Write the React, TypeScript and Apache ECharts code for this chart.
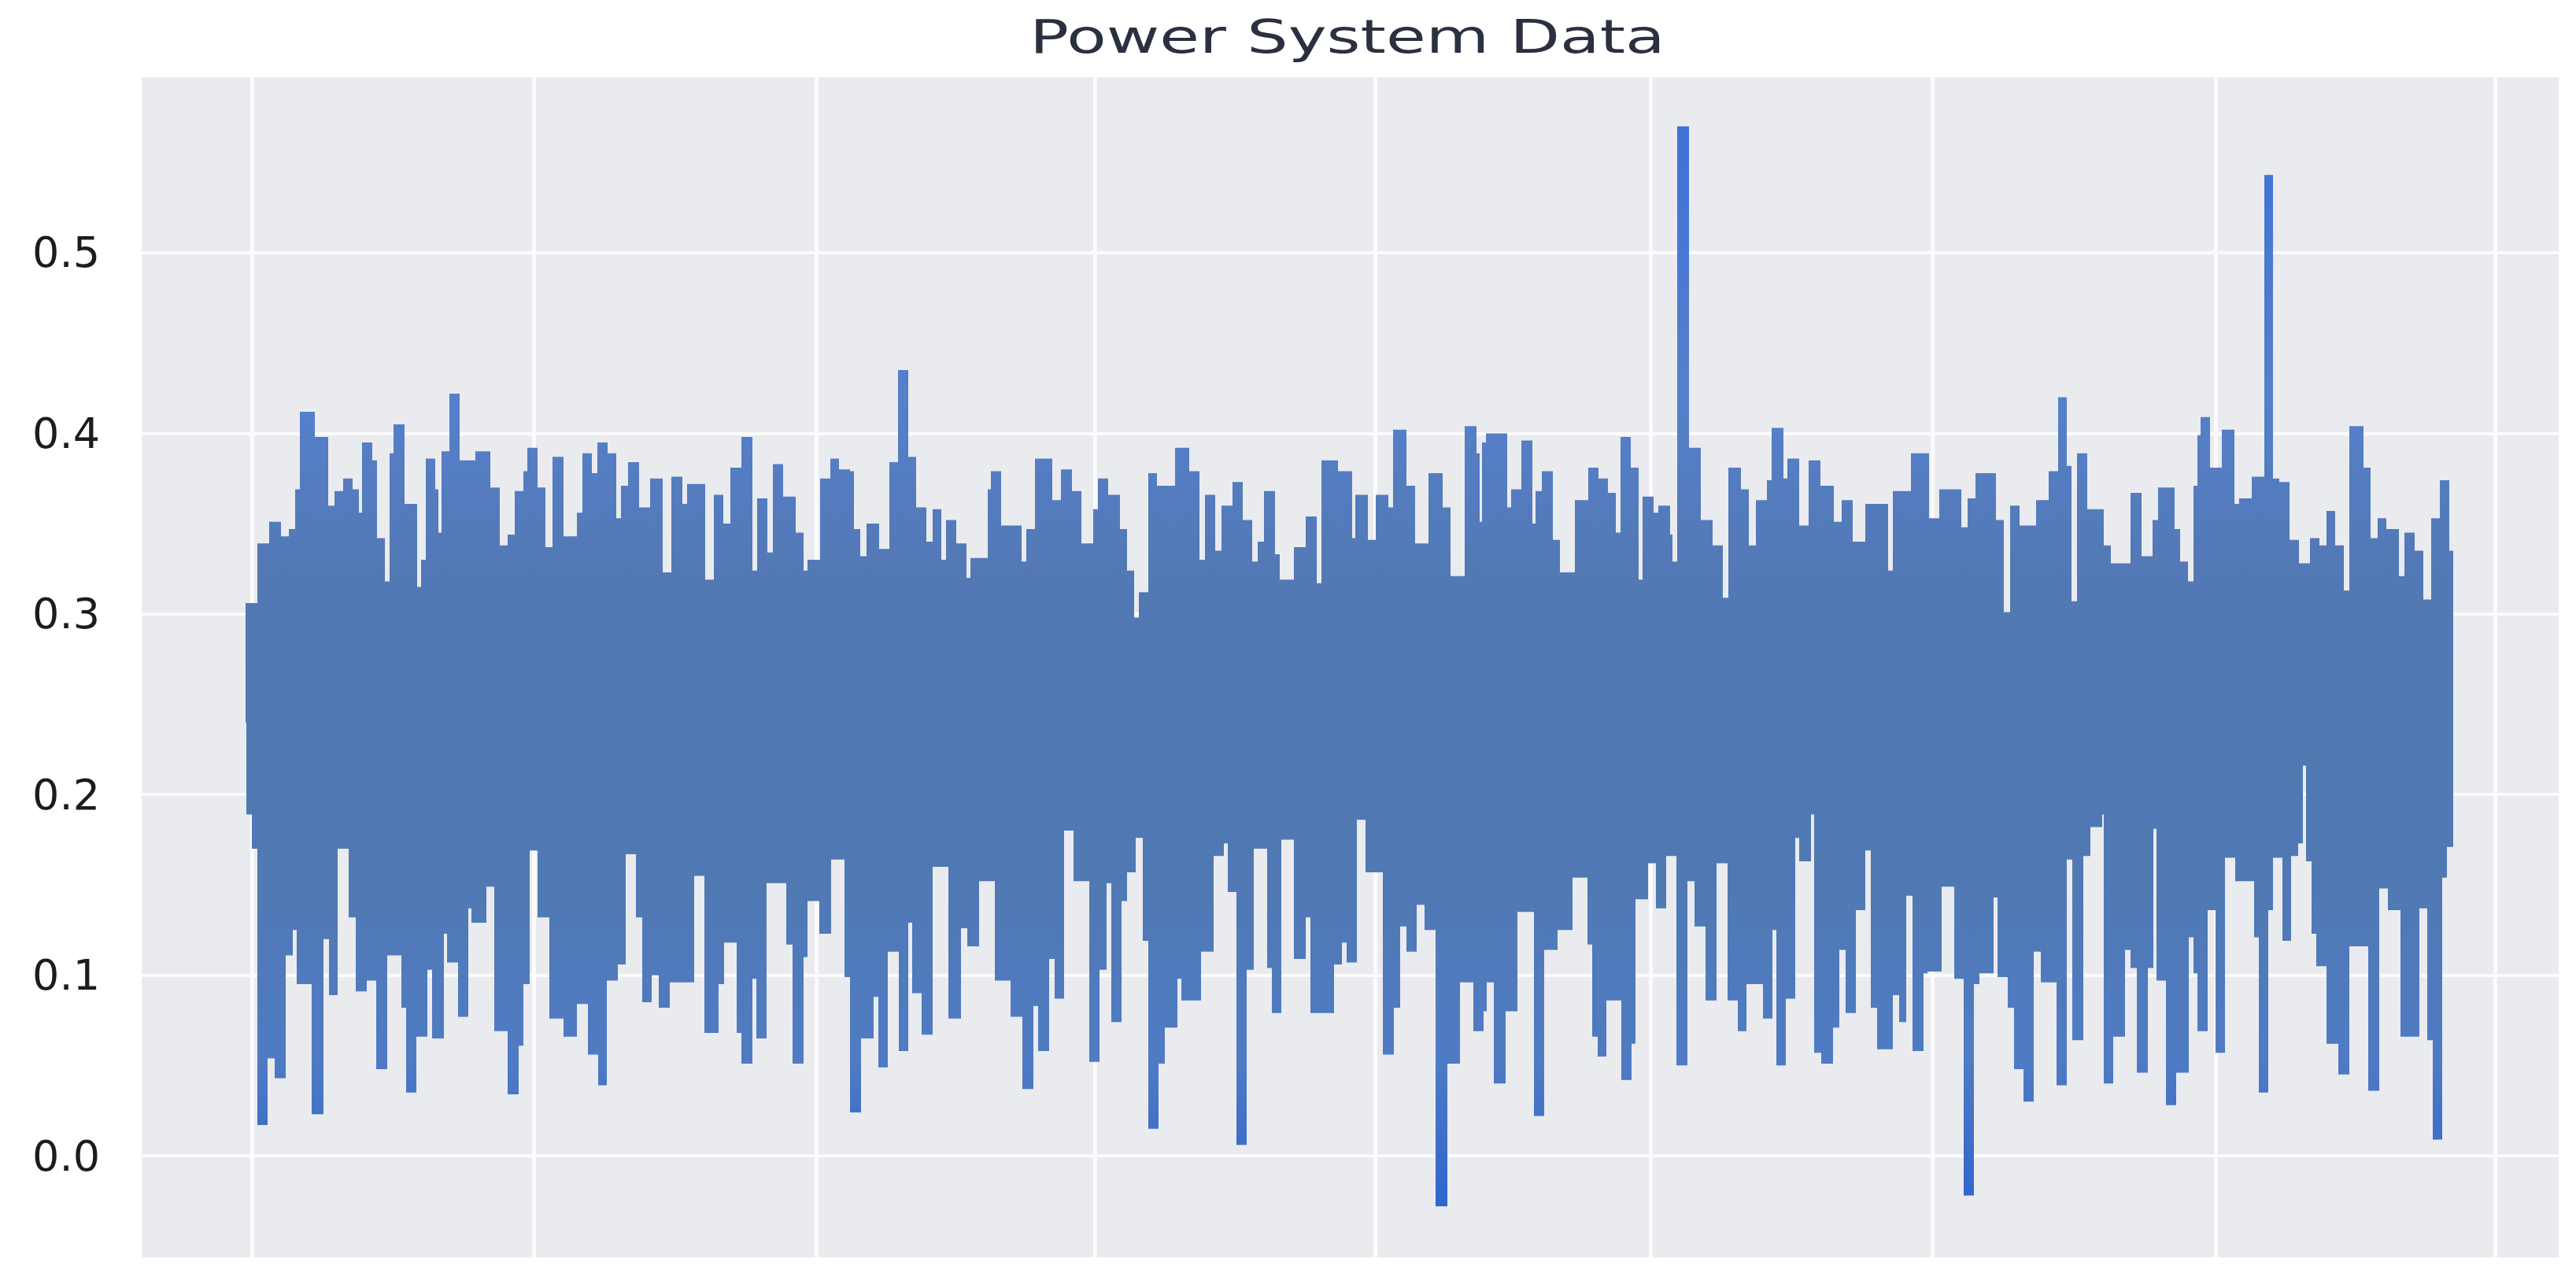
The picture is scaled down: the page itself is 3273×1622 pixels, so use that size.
import React, { useEffect, useRef } from "react";
import * as echarts from "echarts";

const chartTitle = "Power System Data";
const valueTicks = [0, 0.1, 0.2, 0.3, 0.4, 0.5];
const timeTicks = [0, 358, 717, 1071, 1427, 1777, 2135, 2495, 2850];

const upperTimes = [
  -8, 7, 22, 37, 47, 55, 61, 80, 97, 105, 116, 128, 136, 140, 153, 159, 169, 175, 180, 194, 210, 215, 221, 233, 237, 241, 251, 264, 284, 303, 315, 325, 334, 345, 350, 363, 373, 382, 396, 413, 420, 432, 439, 452, 463, 469, 478, 492, 506, 522, 533, 547, 553, 576, 587, 599, 608, 622, 636, 642, 655, 662, 675, 691, 701, 706, 722, 735, 746,
  760, 765, 773, 781, 797, 810, 821, 834, 844, 857, 865, 876, 882, 895, 908, 913, 935, 939, 952, 978, 984, 995, 1017, 1028, 1042, 1054, 1069, 1075, 1088, 1103, 1112, 1121, 1127, 1139, 1150, 1173, 1191, 1204, 1211, 1224, 1232, 1246, 1259, 1271, 1278, 1286, 1300, 1306, 1324, 1339, 1353, 1359, 1380, 1398, 1402, 1418, 1428, 1444, 1450, 1467, 1478, 1495, 1513, 1523, 1541, 1556,
  1560, 1563, 1568, 1595, 1600, 1613, 1627, 1631, 1639, 1653, 1662, 1681, 1698, 1711, 1723, 1733, 1739, 1752, 1762, 1767, 1781, 1787, 1802, 1805, 1811, 1826, 1841, 1856, 1869, 1876, 1892, 1902, 1911, 1925, 1931, 1946, 1951, 1966, 1978, 1993, 2010, 2020, 2034, 2050, 2079, 2085, 2108, 2131, 2144, 2172, 2180, 2190, 2216, 2226, 2234, 2246, 2267, 2283,
  2295, 2306, 2312, 2319, 2332, 2353, 2362, 2387, 2401, 2415, 2422, 2443, 2450, 2460, 2467, 2472, 2476, 2488, 2503, 2519, 2525, 2541, 2557, 2568, 2576, 2589, 2601, 2615, 2627, 2636, 2647, 2658, 2665, 2683, 2692, 2701, 2712, 2728, 2735, 2748, 2759, 2769, 2780, 2792, 2797,
];
const upperValues = [
  0.306, 0.339, 0.351, 0.343, 0.347, 0.369, 0.412, 0.398, 0.36, 0.368, 0.375, 0.369, 0.356, 0.395, 0.385, 0.342, 0.318, 0.389, 0.405, 0.361, 0.315, 0.33, 0.386, 0.369, 0.345, 0.39, 0.422, 0.385, 0.39, 0.37, 0.338, 0.344, 0.368, 0.379, 0.392, 0.37, 0.337, 0.387, 0.343, 0.356, 0.389, 0.378, 0.395, 0.389, 0.353, 0.371, 0.384, 0.359, 0.375, 0.323, 0.376, 0.361, 0.372, 0.319, 0.366, 0.35, 0.381, 0.398, 0.324, 0.364, 0.334, 0.383, 0.365, 0.345, 0.324, 0.33, 0.375, 0.386, 0.38,
  0.379, 0.347, 0.332, 0.35, 0.336, 0.384, 0.435, 0.387, 0.359, 0.34, 0.358, 0.33, 0.352, 0.339, 0.32, 0.331, 0.369, 0.379, 0.349, 0.329, 0.347, 0.386, 0.363, 0.38, 0.368, 0.339, 0.358, 0.375, 0.366, 0.347, 0.324, 0.298, 0.312, 0.378, 0.371, 0.392, 0.379, 0.33, 0.366, 0.335, 0.36, 0.373, 0.352, 0.329, 0.34, 0.368, 0.333, 0.319, 0.337, 0.354, 0.317, 0.385, 0.379, 0.342, 0.366, 0.341, 0.366, 0.359, 0.402, 0.371, 0.339, 0.378, 0.359, 0.321, 0.404, 0.389,
  0.351, 0.395, 0.4, 0.359, 0.369, 0.396, 0.35, 0.368, 0.379, 0.341, 0.323, 0.363, 0.381, 0.375, 0.367, 0.345, 0.398, 0.381, 0.319, 0.365, 0.356, 0.36, 0.344, 0.329, 0.57, 0.392, 0.352, 0.338, 0.309, 0.381, 0.369, 0.338, 0.363, 0.374, 0.403, 0.375, 0.386, 0.349, 0.385, 0.371, 0.351, 0.363, 0.34, 0.361, 0.324, 0.368, 0.389, 0.353, 0.369, 0.348, 0.364, 0.378, 0.352, 0.301, 0.36, 0.349, 0.363, 0.379,
  0.42, 0.382, 0.307, 0.389, 0.358, 0.338, 0.328, 0.367, 0.332, 0.352, 0.37, 0.347, 0.329, 0.318, 0.371, 0.399, 0.409, 0.381, 0.402, 0.361, 0.364, 0.376, 0.543, 0.375, 0.373, 0.341, 0.328, 0.342, 0.338, 0.357, 0.338, 0.313, 0.404, 0.381, 0.342, 0.353, 0.347, 0.321, 0.345, 0.335, 0.308, 0.353, 0.374, 0.335, 0.335,
];

const lowerTimes = [
  -7, 0, 7, 20, 29, 43, 52, 57, 76, 91, 98, 109, 123, 132, 146, 158, 172, 190, 196, 209, 223, 229, 244, 248, 262, 275, 279, 298, 308, 325, 339, 345, 353, 363, 378, 396, 413, 427, 440, 451, 465, 475, 488, 496, 508, 517, 531, 562, 575, 593, 600, 616, 622, 636, 641, 654, 679, 687, 701, 706, 721, 736, 753,
  760, 774, 790, 796, 808, 822, 834, 839, 851, 865, 885, 901, 909, 924, 944, 964, 979, 993, 999, 1013, 1020, 1032, 1044, 1064, 1077, 1086, 1092, 1105, 1112, 1123, 1132, 1139, 1152, 1160, 1176, 1181, 1206, 1222, 1235, 1240, 1251, 1264, 1273, 1290, 1296, 1308, 1324, 1339, 1345, 1375, 1385, 1391, 1404, 1415, 1437, 1451, 1459, 1467, 1480, 1490, 1504, 1519, 1535, 1552,
  1560, 1565, 1569, 1578, 1593, 1608, 1629, 1642, 1659, 1678, 1697, 1703, 1710, 1721, 1740, 1753, 1758, 1774, 1784, 1797, 1810, 1824, 1833, 1847, 1861, 1875, 1888, 1899, 1920, 1932, 1937, 1949, 1961, 1966, 1981, 1985, 1994, 2009, 2017, 2025, 2038, 2050, 2057, 2065, 2085, 2093, 2102, 2110, 2124, 2129, 2147, 2163, 2175, 2188, 2195, 2213, 2218, 2231, 2239, 2251, 2264, 2273,
  2293, 2306, 2313, 2327, 2336, 2351, 2353, 2365, 2380, 2387, 2395, 2409, 2416, 2420, 2432, 2445, 2461, 2467, 2472, 2485, 2495, 2507, 2520, 2544, 2550, 2562, 2568, 2580, 2591, 2600, 2606, 2610, 2617, 2623, 2636, 2651, 2665, 2689, 2703, 2714, 2730, 2754, 2764, 2771, 2783, 2789, 2797,
];
const lowerValues = [
  0.189, 0.17, 0.017, 0.054, 0.043, 0.111, 0.125, 0.095, 0.023, 0.12, 0.089, 0.17, 0.132, 0.091, 0.097, 0.048, 0.111, 0.082, 0.035, 0.066, 0.103, 0.065, 0.123, 0.107, 0.077, 0.137, 0.129, 0.149, 0.069, 0.034, 0.061, 0.095, 0.169, 0.132, 0.076, 0.066, 0.084, 0.056, 0.039, 0.097, 0.106, 0.167, 0.132, 0.085, 0.1, 0.082, 0.096, 0.155, 0.068, 0.095, 0.118, 0.068, 0.051, 0.098, 0.065, 0.151, 0.117, 0.051, 0.11, 0.141, 0.123, 0.164, 0.099,
  0.024, 0.065, 0.088, 0.049, 0.113, 0.058, 0.129, 0.09, 0.067, 0.16, 0.076, 0.126, 0.116, 0.152, 0.097, 0.077, 0.037, 0.083, 0.058, 0.109, 0.087, 0.18, 0.152, 0.052, 0.103, 0.151, 0.074, 0.141, 0.157, 0.176, 0.119, 0.015, 0.051, 0.071, 0.098, 0.086, 0.113, 0.166, 0.173, 0.146, 0.006, 0.103, 0.17, 0.104, 0.079, 0.175, 0.109, 0.132, 0.079, 0.106, 0.118, 0.107, 0.186, 0.157, 0.056, 0.082, 0.127, 0.113, 0.139, 0.125, -0.028, 0.051, 0.096, 0.069,
  0.069, 0.08, 0.096, 0.04, 0.08, 0.135, 0.022, 0.114, 0.125, 0.154, 0.117, 0.066, 0.055, 0.086, 0.042, 0.062, 0.142, 0.162, 0.137, 0.166, 0.05, 0.152, 0.127, 0.086, 0.162, 0.086, 0.069, 0.095, 0.076, 0.125, 0.05, 0.087, 0.176, 0.163, 0.189, 0.057, 0.051, 0.071, 0.114, 0.079, 0.136, 0.169, 0.082, 0.059, 0.089, 0.074, 0.144, 0.058, 0.101, 0.102, 0.149, 0.098, -0.022, 0.095, 0.101, 0.143, 0.099, 0.082, 0.048, 0.03, 0.113, 0.096,
  0.039, 0.164, 0.064, 0.166, 0.182, 0.189, 0.04, 0.066, 0.114, 0.104, 0.046, 0.104, 0.181, 0.097, 0.028, 0.046, 0.121, 0.101, 0.069, 0.136, 0.057, 0.165, 0.152, 0.121, 0.035, 0.136, 0.165, 0.119, 0.166, 0.173, 0.216, 0.163, 0.123, 0.105, 0.062, 0.045, 0.116, 0.036, 0.148, 0.136, 0.066, 0.137, 0.064, 0.009, 0.154, 0.171, 0.171,
];

const pairs = (xs: number[], ys: number[]) => xs.map((x, i) => [x, ys[i]]);

export default function App() {
  const ref = useRef<HTMLDivElement>(null);
  useEffect(() => {
    const chart = echarts.init(ref.current!, null, { renderer: "svg" });
    const gradient = (stops: [number, string][]) =>
      new echarts.graphic.LinearGradient(0, 0, 0, 1, stops.map(([offset, color]) => ({ offset, color })));
    const band = (name: string, data: number[][], origin: number, color: any) => ({
      name,
      type: "line",
      step: "end",
      data,
      showSymbol: false,
      silent: true,
      lineStyle: { width: 0 },
      areaStyle: { color, opacity: 1, origin },
    });
    chart.setOption({
      animation: false,
      backgroundColor: "#ffffff",
      graphic: [
        {
          type: "text",
          x: 1712,
          y: 46,
          scaleX: 1.4,
          style: {
            text: chartTitle,
            fontFamily: "DejaVu Sans",
            fontSize: 59,
            fill: "#2b3040",
            textAlign: "center",
            textVerticalAlign: "middle",
          },
        },
      ],
      grid: {
        left: 180,
        top: 98,
        width: 3071,
        height: 1499,
        show: true,
        backgroundColor: "#eaebef",
        borderWidth: 0,
      },
      xAxis: {
        type: "value",
        min: -140,
        max: 2931,
        axisLine: { show: false },
        axisLabel: { show: false },
        axisTick: { show: false, customValues: timeTicks },
        splitLine: { show: true, lineStyle: { color: "#fbfbfc", width: 5 } },
      },
      yAxis: {
        type: "value",
        min: -0.0562,
        max: 0.5972,
        axisLine: { show: false },
        axisTick: { show: false, customValues: valueTicks },
        axisLabel: {
          customValues: valueTicks,
          formatter: (v: number) => v.toFixed(1),
          fontFamily: "DejaVu Sans",
          fontSize: 54,
          color: "#1c1c1c",
          margin: 53,
        },
        splitLine: { show: true, lineStyle: { color: "#fbfbfc", width: 4 } },
      },
      series: [
        band("Power upper", pairs(upperTimes, upperValues), 0.24, gradient([
          [0, "#3f72d6"],
          [0.45, "#5580cc"],
          [0.72, "#5379b6"],
          [1, "#4f79b0"],
        ])),
        band("Power lower", pairs(lowerTimes, lowerValues), 0.26, gradient([
          [0, "#4f79b0"],
          [0.4, "#5079b4"],
          [0.72, "#4f7bc4"],
          [1, "#2f65cc"],
        ])),
      ],
    });
    return () => chart.dispose();
  }, []);
  return <div ref={ref} style={{ position: "absolute", left: 0, top: 0, width: 3273, height: 1622 }} />;
}
